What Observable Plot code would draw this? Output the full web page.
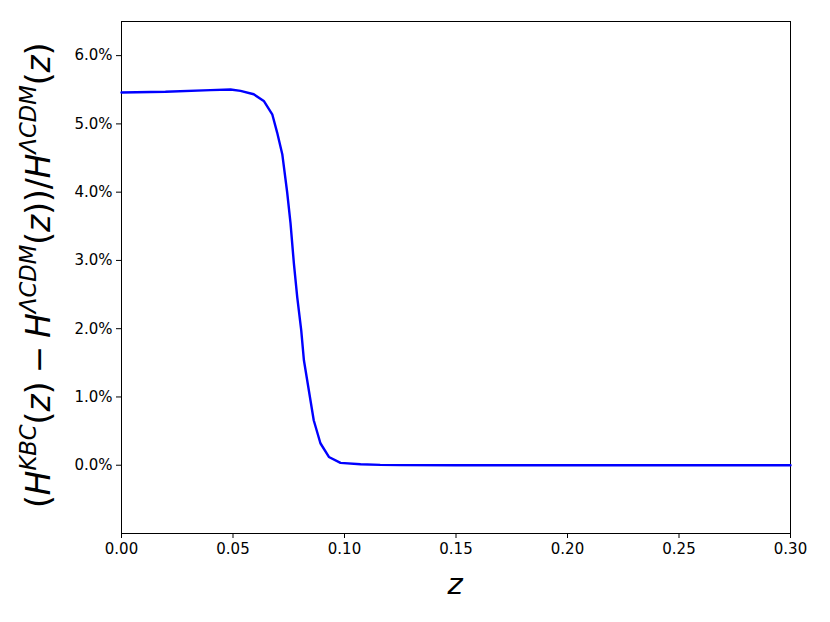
<!DOCTYPE html>
<html>
<head>
<meta charset="utf-8">
<script src="https://cdn.jsdelivr.net/npm/d3@7"></script>
<script src="https://cdn.jsdelivr.net/npm/@observablehq/plot@0.6"></script>
<style>
  html, body { margin: 0; padding: 0; background: #fff; }
  #chart svg { display: block; }
</style>
</head>
<body>
<div id="chart"></div>
<script>
// redshift z
const zValues = [0, 0.0197, 0.0399, 0.0489, 0.0534, 0.0593, 0.0638, 0.0676, 0.0698, 0.0721, 0.0743, 0.0758, 0.0773, 0.0788, 0.0806, 0.0818, 0.0840, 0.0862, 0.0892, 0.0930, 0.0982, 0.1072, 0.116, 0.125, 0.15, 0.2, 0.25, 0.3];
// relative difference in percent
const diffPercent = [5.46, 5.47, 5.495, 5.503, 5.484, 5.434, 5.337, 5.141, 4.873, 4.556, 3.995, 3.542, 2.956, 2.463, 1.976, 1.537, 1.098, 0.659, 0.322, 0.121, 0.034, 0.015, 0.005, 0.002, 0, 0, 0, 0];
const xTicks = [0, 0.05, 0.10, 0.15, 0.20, 0.25, 0.30];
const yTicks = [0, 1, 2, 3, 4, 5, 6];

const data = zValues.map((z, i) => ({z, d: diffPercent[i]}));

const chart = Plot.plot({
  width: 830,
  height: 622,
  marginLeft: 121,
  marginRight: 40,
  marginTop: 21,
  marginBottom: 89,
  style: {fontFamily: "DejaVu Sans", fontSize: "15px", color: "#000", background: "#fff"},
  x: {domain: [0, 0.3], ticks: xTicks, tickFormat: d3.format(".2f"), label: null, tickSize: 5, tickPadding: 5},
  y: {domain: [-1, 6.5], ticks: yTicks, tickFormat: d => d.toFixed(1) + "%", label: null, tickSize: 5, tickPadding: 4},
  marks: [
    Plot.frame({stroke: "#000", strokeWidth: 1}),
    Plot.line(data, {x: "z", y: "d", stroke: "#0000ff", strokeWidth: 2.4})
  ]
});
document.getElementById("chart").appendChild(chart);

const svg = d3.select(chart);
// x label
svg.append("text")
  .attr("x", 455).attr("y", 594)
  .attr("text-anchor", "middle")
  .style("font-family", "DejaVu Sans").style("font-style", "italic")
  .style("font-size", "29px").attr("fill", "#000")
  .text("z");

// y label with superscripts
const yl = svg.append("text")
  .attr("transform", "translate(50,275) rotate(-90)")
  .attr("text-anchor", "start")
  .style("font-family", "DejaVu Sans").style("font-size", "29px").attr("fill", "#000");
const parts = [
  ["(", false, false], ["H", true, false], ["KBC", true, true], ["(", false, false], ["z", true, false], [")", false, false],
  ["\u2005−\u2005", false, false], ["H", true, false], ["ΛCDM", true, true], ["(", false, false], ["z", true, false], ["))/", false, false],
  ["H", true, false], ["ΛCDM", true, true], ["(", false, false], ["z", true, false], [")", false, false]
];
let raised = false;
for (const [t, it, sup] of parts) {
  const ts = yl.append("tspan").text(t).style("font-style", it ? "italic" : "normal");
  if (sup) { ts.attr("dy", -12).style("font-size", "20px"); raised = true; }
  else if (raised) { ts.attr("dy", 12); raised = false; }
}
// fit label to span from y=508 (start) to y=42 (end)
const bb = yl.node().getBBox();
const target = 466;
const s = target / bb.width;
yl.style("font-size", (29 * s) + "px");
yl.selectAll("tspan").each(function() {
  const t = d3.select(this);
  if (this.style.fontSize) {
    t.style("font-size", (20 * s) + "px");
  }
  const dy = t.attr("dy");
  if (dy) t.attr("dy", +dy * s);
});
const bb2 = yl.node().getBBox();
yl.attr("transform", `translate(50,${508 + bb2.x}) rotate(-90)`);
</script>
</body>
</html>
